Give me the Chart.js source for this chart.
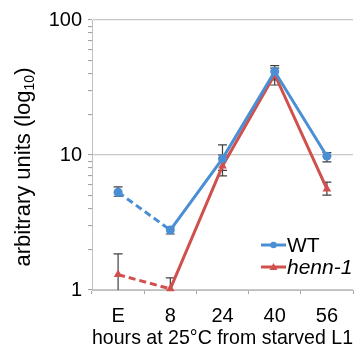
<!DOCTYPE html>
<html>
<head>
<meta charset="utf-8">
<script src="https://cdn.jsdelivr.net/npm/chart.js@4/dist/chart.umd.min.js"></script>
<style>
  html, body { margin: 0; padding: 0; background: #ffffff; }
  #wrap { width: 359px; height: 356px; position: relative; }
</style>
</head>
<body>
<div id="wrap"><canvas id="c" width="359" height="356"></canvas></div>
<script>
const categories = ['E', '8', '24', '40', '56'];
const wtValues  = [5.3, 2.78, 9.4, 41.5, 9.8];
const wtLow     = [4.95, 2.6, 7.7, 36, 8.9];
const wtHigh    = [5.8, 2.93, 11.9, 46, 10.4];
const hennValues = [1.3, 1.02, 8.3, 39.5, 5.6];
const hennLow    = [0.75, 0.8, 7.0, 33, 5.05];
const hennHigh   = [1.85, 1.23, 10.0, 44, 6.3];
const yTickLabels = [1, 10, 100];
const yMinorTicks = [2, 3, 4, 5, 6, 7, 8, 9, 20, 30, 40, 50, 60, 70, 80, 90];
const seriesNames = ['WT', 'henn-1'];
const yTitleParts = ['arbitrary units (log', '10', ')'];

const FONT = "'Liberation Sans', Arial, sans-serif";
const BLUE = '#4a8fd3';
const RED = '#d0504d';

const errorBars = {
  id: 'errorBars',
  beforeDatasetsDraw(chart) {
    const ctx = chart.ctx;
    const y = chart.scales.y;
    const area = chart.chartArea;
    const sets = [[wtLow, wtHigh], [hennLow, hennHigh]];
    ctx.save();
    ctx.beginPath();
    ctx.rect(area.left, area.top - 5, area.right - area.left, area.bottom - area.top + 5);
    ctx.clip();
    ctx.strokeStyle = '#404040';
    ctx.lineWidth = 1.2;
    sets.forEach((s, di) => {
      const meta = chart.getDatasetMeta(di);
      meta.data.forEach((pt, i) => {
        const x = pt.x;
        const yl = y.getPixelForValue(s[0][i]);
        const yh = y.getPixelForValue(s[1][i]);
        ctx.beginPath();
        ctx.moveTo(x, yl); ctx.lineTo(x, yh);
        ctx.moveTo(x - 4.5, yl); ctx.lineTo(x + 4.5, yl);
        ctx.moveTo(x - 4.5, yh); ctx.lineTo(x + 4.5, yh);
        ctx.stroke();
      });
    });
    ctx.restore();
  }
};

const yTitle = {
  id: 'yTitle',
  afterDraw(chart) {
    const ctx = chart.ctx;
    const a = chart.chartArea;
    const big = '22px ' + FONT, small = '14px ' + FONT;
    ctx.save();
    ctx.font = big;
    const w0 = ctx.measureText(yTitleParts[0]).width;
    const w2 = ctx.measureText(yTitleParts[2]).width;
    ctx.font = small;
    const w1 = ctx.measureText(yTitleParts[1]).width;
    const total = w0 + w1 + w2;
    ctx.translate(30, (a.top + a.bottom) / 2 + 12);
    ctx.rotate(-Math.PI / 2);
    ctx.fillStyle = '#000';
    ctx.textBaseline = 'alphabetic';
    ctx.textAlign = 'left';
    let x = -total / 2;
    ctx.font = big; ctx.fillText(yTitleParts[0], x, 0); x += w0;
    ctx.font = small; ctx.fillText(yTitleParts[1], x, 4); x += w1;
    ctx.font = big; ctx.fillText(yTitleParts[2], x, 0);
    ctx.restore();
  }
};

const customLegend = {
  id: 'customLegend',
  afterDraw(chart) {
    const ctx = chart.ctx;
    const a = chart.chartArea;
    const x0 = a.right - 92, x1 = a.right - 67;
    const rows = [a.bottom - 45, a.bottom - 23];
    chart.data.datasets.forEach((ds, i) => {
      const yy = rows[i];
      ctx.save();
      ctx.strokeStyle = ds.borderColor;
      ctx.lineWidth = 3;
      ctx.beginPath(); ctx.moveTo(x0, yy); ctx.lineTo(x1, yy); ctx.stroke();
      ctx.fillStyle = ds.borderColor;
      const cx = (x0 + x1) / 2;
      ctx.beginPath();
      if (i === 0) {
        ctx.arc(cx, yy, 3.2, 0, Math.PI * 2);
      } else {
        ctx.moveTo(cx, yy - 4); ctx.lineTo(cx + 4, yy + 3); ctx.lineTo(cx - 4, yy + 3); ctx.closePath();
      }
      ctx.fill();
      ctx.fillStyle = '#000';
      ctx.font = (i === 1 ? 'italic ' : '') + '21px ' + FONT;
      ctx.textBaseline = 'middle';
      ctx.textAlign = 'left';
      ctx.fillText(ds.label, x1 + 1, yy + 1);
      ctx.restore();
    });
  }
};

const dashFirst = ctx => ctx.p0DataIndex === 0 ? [7, 4] : undefined;

new Chart(document.getElementById('c'), {
  type: 'line',
  data: {
    labels: categories,
    datasets: [
      {
        label: seriesNames[0], data: wtValues,
        borderColor: BLUE, backgroundColor: BLUE,
        borderWidth: 3, pointRadius: 4.5, pointStyle: 'circle',
        pointBorderWidth: 0, tension: 0, clip: false,
        segment: { borderDash: dashFirst }
      },
      {
        label: seriesNames[1], data: hennValues,
        borderColor: RED, backgroundColor: RED,
        borderWidth: 3, pointRadius: 5, pointStyle: 'triangle',
        pointBorderWidth: 0, tension: 0, clip: false,
        segment: { borderDash: dashFirst }
      }
    ]
  },
  options: {
    responsive: false,
    animation: false,
    layout: { padding: { top: 20, right: 6, left: 0, bottom: 0 } },
    plugins: { legend: { display: false }, tooltip: { enabled: false } },
    scales: {
      x: {
        type: 'category',
        offset: true,
        grid: { offset: true, drawOnChartArea: false, drawTicks: true, tickLength: 4, color: '#a6a6a6', tickWidth: 1 },
        border: { color: '#bfbfbf', width: 1 },
        ticks: { color: '#000', font: { family: FONT, size: 20 }, padding: 10, maxRotation: 0 },
        title: { display: true, text: 'hours at 25°C from starved L1', color: '#000',
                 font: { family: FONT, size: 21 }, padding: { top: 0, bottom: 5 } },
        afterFit(s) { s.height = 66; }
      },
      y: {
        type: 'logarithmic',
        min: 1, max: 100,
        afterBuildTicks(s) {
          s.ticks = yTickLabels.concat(yMinorTicks).sort((a, b) => a - b).map(v => ({ value: v, major: yTickLabels.includes(v) }));
        },
        grid: {
          color: c => (c.tick && yTickLabels.includes(c.tick.value) ? '#c8c8c8' : 'rgba(0,0,0,0)'),
          tickColor: '#9a9a9a',
          tickWidth: 1,
          tickLength: 4,
          lineWidth: 1.2
        },
        border: { color: '#bfbfbf', width: 1 },
        ticks: {
          autoSkip: false,
          color: '#000',
          font: { family: FONT, size: 20 },
          padding: 6,
          callback: v => (yTickLabels.includes(v) ? String(v) : '')
        },
        title: { display: false },
        afterFit(s) { s.width = 92; }
      }
    }
  },
  plugins: [errorBars, yTitle, customLegend]
});
</script>
</body>
</html>
